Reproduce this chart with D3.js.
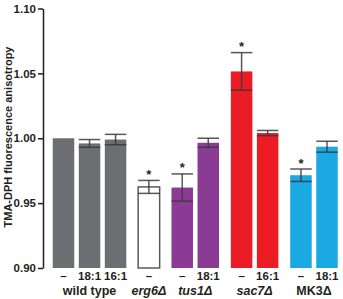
<!DOCTYPE html>
<html><head><meta charset="utf-8">
<script src="https://cdn.jsdelivr.net/npm/d3@7"></script>
<style>
html,body{margin:0;padding:0;background:#fff;}
text{font-family:"Liberation Sans",Arial,Helvetica,sans-serif;font-weight:bold;}
</style></head>
<body><svg id="chart" width="343" height="299"></svg>
<script>
// Data
const groups = ["wild type", "erg6Δ", "tus1Δ", "sac7Δ", "MK3Δ"];
const groupItalic = [false, true, true, true, false];
const groupColors = ["#6d6e71", "#ffffff", "#8c3b95", "#ec1c24", "#1aa9e3"];
const conditions = [["–", "18:1", "16:1"], ["–"], ["–", "18:1"], ["–", "16:1"], ["–", "18:1"]];
const values = [[1.000, 0.996, 0.999], [0.9625], [0.962, 0.9965], [1.0515, 1.004], [0.9715, 0.9935]];
const errors = [[0.000, 0.003, 0.004], [0.005], [0.0105, 0.0035], [0.0145, 0.002], [0.0048, 0.0042]];
const significant = [[false, false, false], [true], [true, false], [true, false], [true, false]];
const yTicks = [0.90, 0.95, 1.00, 1.05, 1.10];
const yTitle = "TMA-DPH fluorescence anisotropy";

// Build bar table
const groupGap = 0.28;
const bars = [];
let idx = 0;
groups.forEach((g, gi) => {
  conditions[gi].forEach((c, ci) => {
    bars.push({group: gi, cond: c, value: values[gi][ci], err: errors[gi][ci], sig: significant[gi][ci],
               pos: idx + gi * groupGap});
    idx++;
  });
});
const maxPos = d3.max(bars, d => d.pos);

const svg = d3.select("#chart");
const y = d3.scaleLinear().domain([0.90, 1.10]).range([268, 8.5]);
const x = d3.scaleLinear().domain([0, maxPos]).range([63.5, 327]);
const bw = 21.5;

// Y axis
const axis = d3.axisLeft(y).tickValues(yTicks).tickFormat(d3.format(".2f")).tickSize(5).tickSizeOuter(0).tickPadding(2);
const ag = svg.append("g").attr("transform", "translate(43,0)").call(axis);
ag.select(".domain").attr("stroke", "#231f20").attr("stroke-width", 1.5);
ag.selectAll(".tick line").attr("stroke", "#231f20").attr("stroke-width", 1.5);
ag.selectAll(".tick text").attr("fill", "#231f20").style("font-size", "11.5px").style("font-family", "'Liberation Sans',Arial,sans-serif").style("font-weight", "bold");

// Y title
svg.append("text")
  .attr("transform", "translate(8," + 137 + ") rotate(-90)")
  .attr("text-anchor", "middle")
  .attr("dy", "0.35em")
  .style("font-size", "11px")
  .attr("fill", "#231f20")
  .text(yTitle);

// Bars
const base = y(0.90);
svg.append("g").selectAll("rect").data(bars).join("rect")
  .attr("x", d => x(d.pos) - bw / 2)
  .attr("y", d => y(d.value))
  .attr("width", bw)
  .attr("height", d => base - y(d.value))
  .attr("fill", d => groupColors[d.group])
  .attr("stroke", d => d.group === 1 ? "#5a5a5c" : "none")
  .attr("stroke-width", d => d.group === 1 ? 1.5 : 0);

// Error bars
const eg = svg.append("g").attr("stroke", "#3a3a3c").attr("stroke-width", 1.5).attr("stroke-opacity", 0.85);
bars.filter(d => d.err > 0).forEach(d => {
  const cx = x(d.pos);
  const top = y(d.value + d.err), bot = y(d.value - d.err);
  eg.append("line").attr("x1", cx).attr("x2", cx).attr("y1", top).attr("y2", bot);
  eg.append("line").attr("x1", cx - bw / 2).attr("x2", cx + bw / 2).attr("y1", top).attr("y2", top);
  eg.append("line").attr("x1", cx - bw / 2).attr("x2", cx + bw / 2).attr("y1", bot).attr("y2", bot);
});

// Stars
svg.append("g").selectAll("text").data(bars.filter(d => d.sig)).join("text")
  .attr("x", d => x(d.pos))
  .attr("y", d => y(d.value + d.err) - 1.5)
  .attr("text-anchor", "middle")
  .style("font-size", "13px")
  .attr("fill", "#231f20")
  .text("*");

// Condition labels
svg.append("g").selectAll("text").data(bars).join("text")
  .attr("x", d => x(d.pos))
  .attr("y", 280)
  .attr("text-anchor", "middle")
  .style("font-size", "11.5px")
  .attr("fill", "#231f20")
  .text(d => d.cond);

// Group labels
const gl = svg.append("g");
groups.forEach((g, gi) => {
  const gb = bars.filter(d => d.group === gi);
  const cx = (x(gb[0].pos) + x(gb[gb.length - 1].pos)) / 2;
  gl.append("text")
    .attr("x", cx)
    .attr("y", 295)
    .attr("text-anchor", "middle")
    .style("font-size", "12.5px")
    .style("font-style", groupItalic[gi] ? "italic" : "normal")
    .attr("fill", "#231f20")
    .text(g);
});
</script></body></html>
